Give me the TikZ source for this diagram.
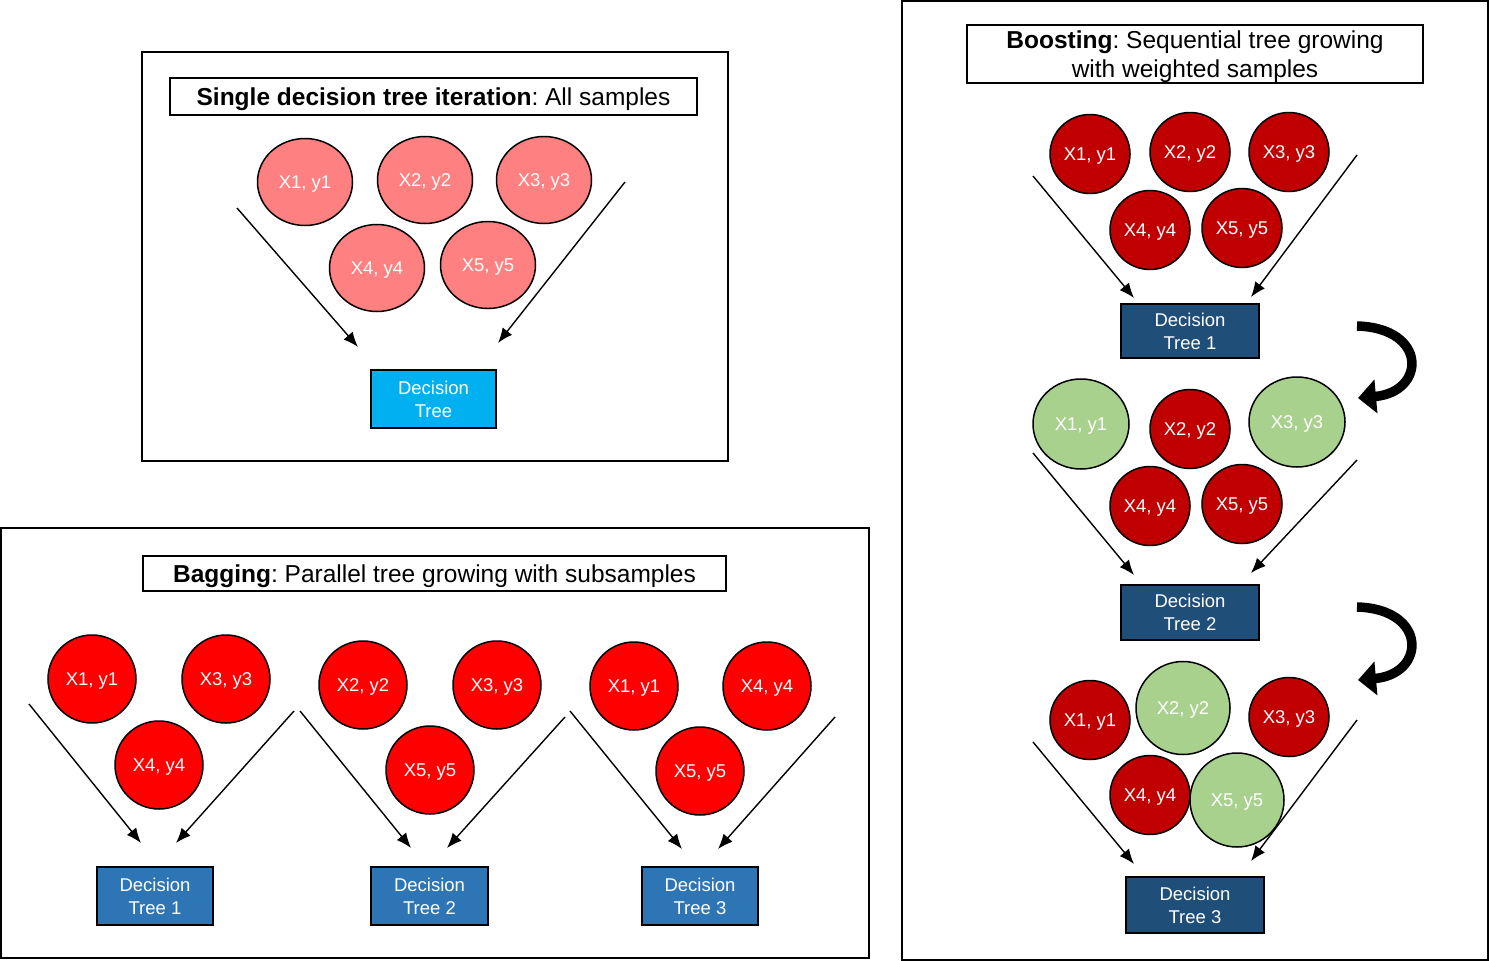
\documentclass[tikz,border=0pt]{standalone}
\usepackage{fontspec}
\setmainfont{Liberation Sans}
\usetikzlibrary{arrows.meta, shapes.geometric}
\frenchspacing

\definecolor{pinkfill}{HTML}{FF8080}
\definecolor{treecyan}{HTML}{00B0F0}
\definecolor{bagred}{HTML}{FF0000}
\definecolor{bagblue}{HTML}{2E75B6}
\definecolor{boostred}{HTML}{C00000}
\definecolor{boostgreen}{HTML}{A9D18E}
\definecolor{boostblue}{HTML}{1F4E79}

\tikzset{
  sample/.style={ellipse, draw=black, line width=1.5pt, text=white, inner sep=0pt, text depth=0pt, font=\fontsize{18.5}{22}\selectfont},
  pinkdot/.style={sample, fill=pinkfill, minimum width=95pt, minimum height=87pt},
  reddot/.style={sample, fill=bagred, minimum width=88pt, minimum height=88pt},
  darkdot/.style={sample, fill=boostred, minimum width=80pt, minimum height=79pt},
  greendot/.style={sample, fill=boostgreen, minimum width=96pt, minimum height=90pt},
  treebox/.style={draw=black, line width=2pt, text=white, align=center, inner sep=0pt, font=\fontsize{18.5}{23}\selectfont},
  titlebox/.style={draw=black, line width=2pt, align=center, inner sep=0pt, text depth=0pt, font=\fontsize{24.5}{29.5}\selectfont},
  panel/.style={draw=black, line width=2pt},
  feed/.style={line width=1.4pt, -{Latex[length=15pt,width=12pt]}},
  turn/.style={line width=9.5pt, -{Triangle[length=18pt,width=33pt]}}
}

\begin{document}
\begin{tikzpicture}[x=1pt, y=-1pt]

\useasboundingbox (0,0) rectangle (1489,961);

\draw[panel] (142,52) rectangle (728,461);

\draw[panel] (1,528) rectangle (869,958);

\draw[panel] (902,1) rectangle (1488,960);

\node[titlebox, minimum width=527pt, minimum height=37pt] (singletitle) at (433.5,96.5) {\textbf{Single decision tree iteration}: All samples};

\node[titlebox, minimum width=583pt, minimum height=35pt] (bagtitle) at (434.5,573.5) {\textbf{Bagging}: Parallel tree growing with subsamples};

\node[titlebox, minimum width=456pt, minimum height=58pt] (boosttitle) at (1195,54) {\textbf{Boosting}: Sequential tree growing\\with weighted samples};

\node[pinkdot] (sx1) at (305,182) {X1, y1};
\node[pinkdot] (sx2) at (425,180) {X2, y2};
\node[pinkdot] (sx3) at (544,180) {X3, y3};
\node[pinkdot] (sx4) at (377,268) {X4, y4};
\node[pinkdot] (sx5) at (488,265) {X5, y5};

\node[treebox, fill=treecyan, minimum width=125pt, minimum height=58pt] (stree) at (433.5,399) {Decision\\Tree};

\coordinate (sinl) at (237,208);
\coordinate (soutl) at (358,347);
\coordinate (sinr) at (625,182);
\coordinate (soutr) at (498,343);
\draw[feed] (sinl) -- (soutl);
\draw[feed] (sinr) -- (soutr);

\node[reddot] (ax1) at (92,679) {X1, y1};
\node[reddot] (ax3) at (226,679) {X3, y3};
\node[reddot] (ax4) at (159,765) {X4, y4};

\node[treebox, fill=bagblue, minimum width=116pt, minimum height=58pt] (atree) at (155,896) {Decision\\Tree 1};

\coordinate (ainl) at (29,704);
\coordinate (aoutl) at (141,843);
\coordinate (ainr) at (294,711);
\coordinate (aoutr) at (176,843);
\draw[feed] (ainl) -- (aoutl);
\draw[feed] (ainr) -- (aoutr);

\node[reddot] (bx2) at (363,685) {X2, y2};
\node[reddot] (bx3) at (497,685) {X3, y3};
\node[reddot] (bx5) at (430,770) {X5, y5};

\node[treebox, fill=bagblue, minimum width=117pt, minimum height=58pt] (btree) at (429.5,896) {Decision\\Tree 2};

\coordinate (binl) at (300,711);
\coordinate (boutl) at (411,848);
\coordinate (binr) at (565,717);
\coordinate (boutr) at (447,848);
\draw[feed] (binl) -- (boutl);
\draw[feed] (binr) -- (boutr);

\node[reddot] (cx1) at (634,686) {X1, y1};
\node[reddot] (cx4) at (767,686) {X4, y4};
\node[reddot] (cx5) at (700,771) {X5, y5};

\node[treebox, fill=bagblue, minimum width=116pt, minimum height=58pt] (ctree) at (700,896) {Decision\\Tree 3};

\coordinate (cinl) at (570,711);
\coordinate (coutl) at (682,849);
\coordinate (cinr) at (835,717);
\coordinate (coutr) at (718,849);
\draw[feed] (cinl) -- (coutl);
\draw[feed] (cinr) -- (coutr);

\node[darkdot] (px1) at (1090,154) {X1, y1};
\node[darkdot] (px2) at (1190,152) {X2, y2};
\node[darkdot] (px3) at (1289,152) {X3, y3};
\node[darkdot] (px4) at (1150,230) {X4, y4};
\node[darkdot] (px5) at (1242,228) {X5, y5};

\node[treebox, fill=boostblue, minimum width=138pt, minimum height=54pt] (ptree) at (1190,331) {Decision\\Tree 1};

\coordinate (pinl) at (1033,176);
\coordinate (poutl) at (1134,298);
\coordinate (pinr) at (1357,155);
\coordinate (poutr) at (1251,297);
\draw[feed] (pinl) -- (poutl);
\draw[feed] (pinr) -- (poutr);

\coordinate (pturnfrom) at (1357,326);
\coordinate (pturnto) at (1358,398);
\draw[turn] (pturnfrom) .. controls (1428,328) and (1426,392) .. (pturnto);

\node[greendot] (qx1) at (1081,424) {X1, y1};
\node[darkdot] (qx2) at (1190,429) {X2, y2};
\node[greendot] (qx3) at (1297,422) {X3, y3};
\node[darkdot] (qx4) at (1150,506) {X4, y4};
\node[darkdot] (qx5) at (1242,504) {X5, y5};

\node[treebox, fill=boostblue, minimum width=138pt, minimum height=55pt] (qtree) at (1190,612.5) {Decision\\Tree 2};

\coordinate (qinl) at (1033,453);
\coordinate (qoutl) at (1134,575);
\coordinate (qinr) at (1357,460);
\coordinate (qoutr) at (1251,573);
\draw[feed] (qinl) -- (qoutl);
\draw[feed] (qinr) -- (qoutr);

\coordinate (qturnfrom) at (1357,607);
\coordinate (qturnto) at (1358,680);
\draw[turn] (qturnfrom) .. controls (1428,609) and (1426,674) .. (qturnto);

\node[darkdot] (rx1) at (1090,720) {X1, y1};
\node[greendot, minimum width=94pt, minimum height=93pt] (rx2) at (1183,708) {X2, y2};
\node[darkdot] (rx3) at (1289,717) {X3, y3};
\node[darkdot] (rx4) at (1150,795) {X4, y4};
\node[greendot, minimum width=94pt, minimum height=94pt] (rx5) at (1237,800) {X5, y5};

\node[treebox, fill=boostblue, minimum width=138pt, minimum height=56pt] (rtree) at (1195,905) {Decision\\Tree 3};

\coordinate (rinl) at (1033,742);
\coordinate (routl) at (1134,864);
\coordinate (rinr) at (1357,720);
\coordinate (routr) at (1251,861);
\draw[feed] (rinl) -- (routl);
\draw[feed] (rinr) -- (routr);

\end{tikzpicture}
\end{document}
